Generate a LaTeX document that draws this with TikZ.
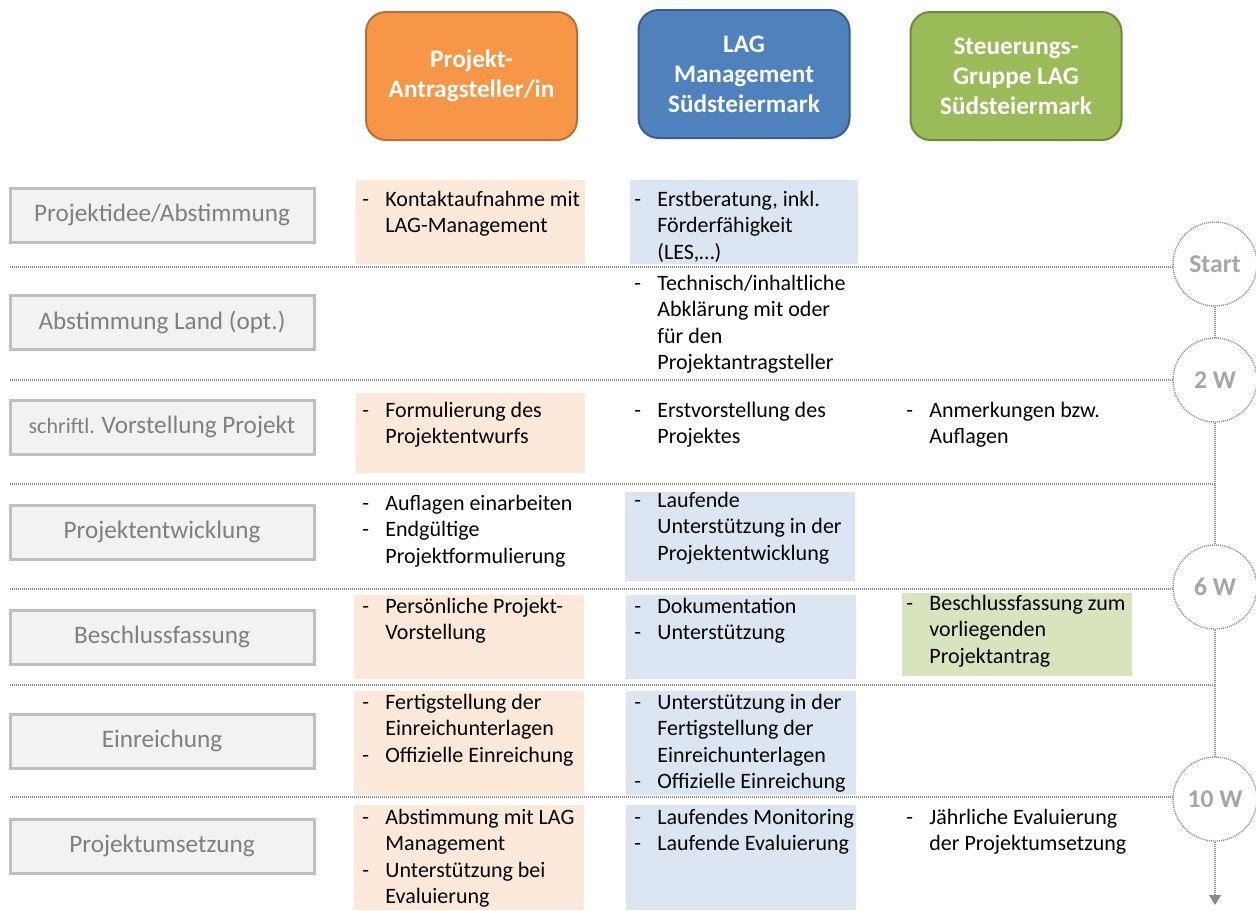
\documentclass[tikz,border=0pt]{standalone}
\usepackage{fontspec}
\setmainfont{Carlito}
\usetikzlibrary{arrows.meta}
\definecolor{orangeKopf}{HTML}{F79646}
\definecolor{orangeRand}{HTML}{B7703A}
\definecolor{orangeZelle}{HTML}{FDE9D9}
\definecolor{blauKopf}{HTML}{4F81BD}
\definecolor{blauRand}{HTML}{385D8A}
\definecolor{blauZelle}{HTML}{DCE6F2}
\definecolor{gruenKopf}{HTML}{9BBB59}
\definecolor{gruenRand}{HTML}{71893F}
\definecolor{gruenZelle}{HTML}{D7E4BD}
\definecolor{phaseFill}{HTML}{F2F2F2}
\definecolor{phaseRand}{HTML}{BFBFBF}
\definecolor{phaseText}{HTML}{7F7F7F}
\definecolor{zeitGrau}{HTML}{A6A6A6}
\definecolor{linieGrau}{HTML}{8C8C8C}
\newcommand{\punkte}[1]{\begin{tabular}[t]{@{}p{11.5pt}@{}l@{}}#1\end{tabular}}
\tikzset{
    kopf/.style={draw, line width=1pt, rounded corners=10pt, minimum width=105.5pt,
        minimum height=64pt, align=center, text=white, font=\fontsize{12.6}{15}\selectfont\bfseries},
    phase/.style={draw=phaseRand, fill=phaseFill, line width=1.5pt, minimum width=152pt,
        minimum height=27pt, text=phaseText, font=\fontsize{12.6}{14}\selectfont},
    zeit/.style={circle, draw=linieGrau, line width=0.7pt, dash pattern=on 0.5pt off 0.5pt,
        minimum size=42pt, text=zeitGrau, font=\fontsize{12.8}{14}\selectfont\bfseries},
    trenn/.style={draw=linieGrau, line width=0.7pt, dash pattern=on 0.5pt off 0.5pt},
    txt/.style={anchor=base west, inner sep=0pt, font=\fontsize{11}{13.25}\selectfont},
}
\begin{document}
\begin{tikzpicture}[x=0.5pt, y=-0.5pt]
            \useasboundingbox (0,0) rectangle (1256,910);
            % header
            \node[kopf, draw=orangeRand, fill=orangeKopf] (antrag) at (471.5,76) {Projekt-\\Antragsteller/in};
            \node[kopf, draw=blauRand, fill=blauKopf] (lag) at (744,74) {LAG\\Management\\Südsteiermark};
            \node[kopf, draw=gruenRand, fill=gruenKopf] (steuer) at (1016,76) {Steuerungs-\\Gruppe LAG\\Südsteiermark};
            % cells
            \fill[orangeZelle] (356,180) rectangle (585,264);
            \fill[blauZelle]   (630,180) rectangle (858,264);
            \fill[orangeZelle] (356,393) rectangle (585,473);
            \fill[blauZelle]   (625,492) rectangle (855,581);
            \fill[orangeZelle] (354,595) rectangle (584,679);
            \fill[blauZelle]   (626,595) rectangle (856,679);
            \fill[gruenZelle]  (902,593) rectangle (1132,676);
            \fill[orangeZelle] (354,691) rectangle (584,795);
            \fill[blauZelle]   (626,691) rectangle (856,795);
            \fill[orangeZelle] (354,805) rectangle (584,910);
            \fill[blauZelle]   (626,805) rectangle (856,910);
            % phases
            \foreach \n/\y/\t in {p1/215/{Projektidee/Abstimmung}, p2/322/{Abstimmung Land (opt.)},
                p3/427/{{\fontsize{11}{12}\selectfont schriftl. }Vorstellung Projekt}, p4/532/{Projektentwicklung},
                p5/637/{Beschlussfassung}, p6/741/{Einreichung}, p7/846/{Projektumsetzung}}
                {\node[phase] (\n) at (162,\y) {\t};}
            % timeline
            \node[zeit] (start) at (1215,264) {Start};
            \node[zeit] (w2) at (1215,380) {2 W};
            \node[zeit] (w6) at (1215,587) {6 W};
            \node[zeit] (w10) at (1215,799) {10 W};
            \coordinate (ende) at (1215,905);
            \draw[trenn] (start) -- (w2);
            \draw[trenn] (w2) -- (w6);
            \draw[trenn] (w6) -- (w10);
            \draw[trenn, -{Triangle[length=5pt, width=6pt, fill=linieGrau]}] (w10) -- (ende);
            % separators
            \foreach \y/\z in {267/start, 380/w2, 589/w6, 797/w10}
                {\coordinate (s\y) at (10,\y); \draw[trenn] (s\y) -- (\z.west |- s\y);}
            \foreach \y in {484, 685}
                {\coordinate (s\y) at (10,\y); \coordinate (e\y) at (1215,\y); \draw[trenn] (s\y) -- (e\y);}
            % texts
            \node[txt] (o1) at (362,206) {\punkte{- & Kontaktaufnahme mit\\ & LAG-Management}};
            \node[txt] (b1) at (634,206) {\punkte{- & Erstberatung, inkl.\\ & Förderfähigkeit\\ & (LES,…)}};
            \node[txt] (b2) at (634,290) {\punkte{- & Technisch/inhaltliche\\ & Abklärung mit oder\\ & für den\\ & Projektantragsteller}};
            \node[txt] (o3) at (362,417) {\punkte{- & Formulierung des\\ & Projektentwurfs}};
            \node[txt] (b3) at (634,417) {\punkte{- & Erstvorstellung des\\ & Projektes}};
            \node[txt] (g3) at (906,417) {\punkte{- & Anmerkungen bzw.\\ & Auflagen}};
            \node[txt] (o4) at (362,510) {\punkte{- & Auflagen einarbeiten\\- & Endgültige\\ & Projektformulierung}};
            \node[txt] (b4) at (634,507) {\punkte{- & Laufende\\ & Unterstützung in der\\ & Projektentwicklung}};
            \node[txt] (o5) at (362,613) {\punkte{- & Persönliche Projekt-\\ & Vorstellung}};
            \node[txt] (b5) at (634,613) {\punkte{- & Dokumentation\\- & Unterstützung}};
            \node[txt] (g5) at (906,610) {\punkte{- & Beschlussfassung zum\\ & vorliegenden\\ & Projektantrag}};
            \node[txt] (o6) at (362,709) {\punkte{- & Fertigstellung der\\ & Einreichunterlagen\\- & Offizielle Einreichung}};
            \node[txt] (b6) at (634,709) {\punkte{- & Unterstützung in der\\ & Fertigstellung der\\ & Einreichunterlagen\\- & Offizielle Einreichung}};
            \node[txt] (o7) at (362,824) {\punkte{- & Abstimmung mit LAG\\ & Management\\- & Unterstützung bei\\ & Evaluierung}};
            \node[txt] (b7) at (634,824) {\punkte{- & Laufendes Monitoring\\- & Laufende Evaluierung}};
            \node[txt] (g7) at (906,824) {\punkte{- & Jährliche Evaluierung\\ & der Projektumsetzung}};
        \end{tikzpicture}
\end{document}
